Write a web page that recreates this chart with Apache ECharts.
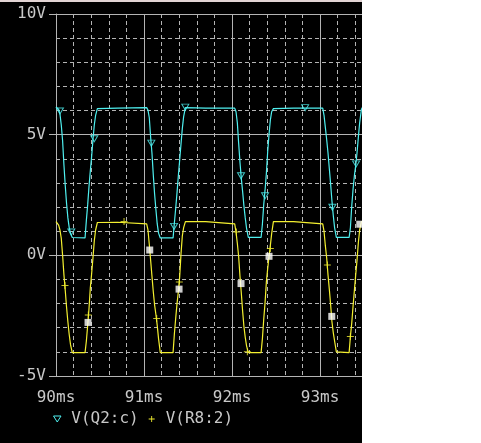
<!DOCTYPE html>
<html>
<head>
<meta charset="utf-8">
<script src="https://cdn.jsdelivr.net/npm/echarts@6/dist/echarts.min.js"></script>
<style>
  html, body { margin: 0; padding: 0; background: #fff; }
  #wrap { width: 362px; height: 443px; overflow: hidden; }
  #chart { width: 372px; height: 443px; }
</style>
</head>
<body>
<div id="wrap"><div id="chart"></div></div>
<script>
// time samples (ms), shared by both traces
const timeMs = [
  90.000, 90.030, 90.045, 90.060, 90.075, 90.090, 90.105, 90.120, 90.135, 90.150, 90.165, 90.185,
  90.330, 90.345, 90.360, 90.375, 90.390, 90.405, 90.420, 90.435, 90.450, 90.470, 90.700, 90.710,
  91.030, 91.045, 91.060, 91.075, 91.090, 91.105, 91.120, 91.135, 91.150, 91.165, 91.185,
  91.330, 91.345, 91.360, 91.375, 91.390, 91.405, 91.420, 91.435, 91.450, 91.470, 91.700, 91.710,
  92.030, 92.045, 92.060, 92.075, 92.090, 92.105, 92.120, 92.135, 92.150, 92.165, 92.185,
  92.330, 92.345, 92.360, 92.375, 92.390, 92.405, 92.420, 92.435, 92.450, 92.470, 92.700, 92.710,
  93.030, 93.045, 93.060, 93.075, 93.090, 93.105, 93.120, 93.135, 93.150, 93.165, 93.185,
  93.330, 93.345, 93.360, 93.375, 93.390, 93.405, 93.420, 93.435, 93.450, 93.470, 93.480
]

// V(Q2:c)
const vQ2c = [
  6.15, 6.05, 5.85, 5.40, 4.75, 3.75, 2.90, 2.15, 1.55, 1.15, 0.90, 0.74,
  0.72, 1.45, 2.10, 2.85, 3.50, 4.10, 4.80, 5.40, 5.80, 6.08, 6.10, 6.15,
  6.12, 6.02, 5.70, 4.90, 4.25, 3.35, 2.55, 1.90, 1.30, 0.92, 0.72,
  0.72, 1.35, 1.95, 2.60, 3.30, 3.95, 4.60, 5.25, 5.75, 6.12, 6.10, 6.15,
  6.10, 5.95, 5.50, 4.65, 3.86, 3.20, 2.65, 2.05, 1.55, 1.12, 0.74,
  0.74, 1.30, 2.10, 2.70, 3.40, 4.30, 5.00, 5.60, 5.95, 6.08, 6.10, 6.15,
  6.10, 5.80, 5.30, 4.80, 4.25, 3.60, 2.95, 2.25, 1.65, 1.15, 0.74,
  0.74, 1.15, 2.05, 2.75, 3.30, 3.72, 4.25, 4.90, 5.50, 6.05, 6.12
]

// V(R8:2)
const vR82 = [
  1.40, 1.25, 1.05, 0.70, 0.00, -0.80, -1.45, -2.15, -2.75, -3.28, -3.70, -4.03,
  -4.03, -3.55, -2.90, -2.20, -1.35, -0.75, -0.10, 0.60, 1.05, 1.36, 1.37, 1.42,
  1.30, 1.05, 0.45, -0.20, -0.85, -1.50, -2.05, -2.45, -2.90, -3.45, -4.03,
  -4.03, -3.25, -2.60, -2.00, -1.50, -0.90, 0.05, 0.80, 1.15, 1.40, 1.40, 1.40,
  1.30, 0.97, 0.50, -0.05, -0.86, -1.55, -2.30, -2.95, -3.40, -3.75, -4.03,
  -4.03, -3.45, -2.65, -1.97, -1.10, -0.55, -0.05, 0.40, 0.90, 1.40, 1.40, 1.40,
  1.30, 1.00, 0.40, -0.10, -0.80, -1.40, -2.05, -2.75, -3.20, -3.55, -4.00,
  -4.03, -3.35, -2.80, -2.10, -1.45, -0.80, -0.20, 0.53, 1.05, 1.40, 1.40
]

// trace markers
const q2cMarkT = [90.045, 90.174, 90.435, 91.083, 91.341, 91.469, 92.102, 92.375, 92.830, 93.140, 93.409]
const q2cMarkV = [5.98, 0.97, 4.83, 4.65, 1.20, 6.14, 3.30, 2.47, 6.12, 1.99, 3.79]
const r82MarkT = [90.102, 90.367, 90.773, 91.144, 91.401, 92.049, 92.174, 92.435, 93.083, 93.344]
const r82MarkV = [-1.25, -2.47, 1.40, -2.62, -1.10, 0.97, -3.99, 0.28, -0.40, -3.36]
const squareT = [90.364, 91.065, 91.398, 92.102, 92.420, 93.133, 93.451]
const squareV = [-2.78, 0.22, -1.40, -1.17, -0.04, -2.53, 1.29]

const CYAN = '#4ff0f0'
const YELLOW = '#f4f030'
const GRID = '#b4b4b4'
const TEXT = '#c8c8c8'
const FONT = 'DejaVu Sans Mono'

const pairs = (xs, ys) => xs.map((x, i) => [x, ys[i]])

const chart = echarts.init(document.getElementById('chart'))
chart.setOption({
  backgroundColor: '#000',
  animation: false,
  graphic: [{
    type: 'rect',
    shape: { x: 0, y: 0, width: 372, height: 2 },
    style: { fill: '#e2d4d4' },
  }],
  grid: { left: 56, right: 0, top: 14, bottom: 67 },
  legend: {
    left: 53,
    top: 411,
    padding: 0,
    itemWidth: 18,
    itemHeight: 6,
    itemGap: 10,
    textStyle: { color: TEXT, fontSize: 16, fontFamily: FONT },
    data: [
      {
        name: 'V(Q2:c)',
        icon: 'path://M0,0L10,0L5,8Z',
        itemStyle: { color: 'transparent', borderColor: CYAN, borderWidth: 1 },
      },
      {
        name: 'V(R8:2)',
        icon: 'path://M0,3h7v1H0z M3,0h1v7H3z',
        itemStyle: { color: YELLOW, borderWidth: 0 },
      },
    ],
  },
  xAxis: [
    {
      // 1 ms major lines + labels
      type: 'value',
      min: 90,
      max: 93.59,
      interval: 1,
      axisLine: { show: true, lineStyle: { color: GRID, width: 1 } },
      axisTick: { show: true, length: 6, lineStyle: { color: GRID } },
      axisLabel: {
        color: TEXT, fontSize: 16, fontFamily: FONT, margin: 14,
        showMaxLabel: false,
        formatter: v => Math.round(v) + 'ms',
      },
      splitLine: { show: true, lineStyle: { color: GRID, width: 1 } },
    },
    {
      // 0.2 ms dashed lines
      type: 'value',
      position: 'bottom',
      min: 90,
      max: 93.59,
      interval: 0.2,
      axisLine: { show: false },
      axisTick: { show: false },
      axisLabel: { show: false },
      splitLine: { show: true, lineStyle: { color: GRID, width: 1, type: [4, 3] } },
    },
  ],
  yAxis: [
    {
      type: 'value',
      min: -5,
      max: 10,
      interval: 5,
      axisLine: { show: true, lineStyle: { color: GRID, width: 1 } },
      axisTick: { show: true, length: 7, lineStyle: { color: GRID } },
      axisLabel: {
        color: TEXT, fontSize: 16, fontFamily: FONT, margin: 10,
        formatter: v => v + 'V',
      },
      splitLine: { show: true, lineStyle: { color: GRID, width: 1 } },
    },
    {
      type: 'value',
      position: 'left',
      min: -5,
      max: 10,
      interval: 1,
      axisLine: { show: false },
      axisTick: { show: false },
      axisLabel: { show: false },
      splitLine: { show: true, lineStyle: { color: GRID, width: 1, type: [4, 3] } },
    },
  ],
  series: [
    {
      name: 'V(Q2:c)',
      type: 'line',
      data: pairs(timeMs, vQ2c),
      showSymbol: false,
      lineStyle: { color: CYAN, width: 1.2 },
      itemStyle: { color: CYAN },
      z: 3,
    },
    {
      name: 'V(R8:2)',
      type: 'line',
      data: pairs(timeMs, vR82),
      showSymbol: false,
      lineStyle: { color: YELLOW, width: 1.2 },
      itemStyle: { color: YELLOW },
      z: 3,
    },
    {
      name: 'V(Q2:c)',
      type: 'scatter',
      data: pairs(q2cMarkT, q2cMarkV),
      symbol: 'triangle',
      symbolRotate: 180,
      symbolSize: [7, 6],
      itemStyle: { color: 'transparent', borderColor: CYAN, borderWidth: 1 },
      z: 4,
    },
    {
      name: 'V(R8:2)',
      type: 'scatter',
      data: pairs(r82MarkT, r82MarkV),
      symbol: 'path://M0,3h7v1H0z M3,0h1v7H3z',
      symbolSize: 7,
      itemStyle: { color: YELLOW },
      z: 4,
    },
    {
      name: 'cursor',
      type: 'scatter',
      data: pairs(squareT, squareV),
      symbol: 'rect',
      symbolSize: 7,
      itemStyle: { color: '#fff' },
      z: 5,
    },
  ],
})
</script>
</body>
</html>
